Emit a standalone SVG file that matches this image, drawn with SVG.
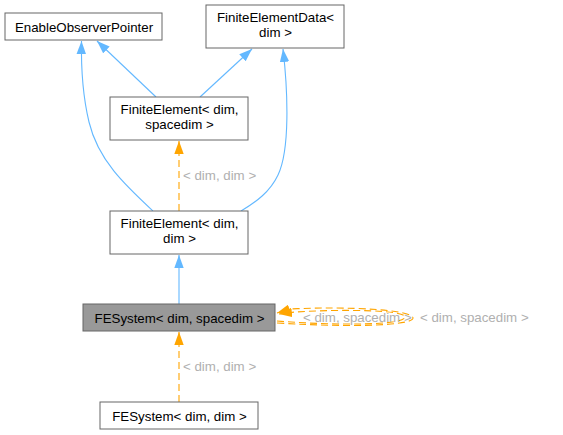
<svg xmlns="http://www.w3.org/2000/svg" width="563" height="435" viewBox="0 0 563 435">
<defs>
<style>
.n rect{fill:#fff;stroke:#666;stroke-width:1}
.n text, .lbl{font-family:"Liberation Sans",Arial,sans-serif;font-size:13.3px;text-anchor:middle}
.n text{fill:#000}
.lbl{fill:#b0b0b0;text-anchor:start}
.b{fill:none;stroke:#63b8ff;stroke-width:1.1}
.o{fill:none;stroke:#ffa500;stroke-width:1.1;stroke-dasharray:7,4}
</style>
<marker id="ab" viewBox="0 0 13 10" refX="13" refY="5" markerWidth="13" markerHeight="10" markerUnits="userSpaceOnUse" orient="auto"><path d="M0,0.3 L13,5 L0,9.7 z" fill="#63b8ff"/></marker>
<marker id="ao" viewBox="0 0 13 10" refX="13" refY="5" markerWidth="13" markerHeight="10" markerUnits="userSpaceOnUse" orient="auto"><path d="M0,0.3 L13,5 L0,9.7 z" fill="#ffa500"/></marker>
</defs>
<rect width="563" height="435" fill="#fff"/>
<g id="edges">
<path class="b" d="M156,97 L97,41" marker-end="url(#ab)"/>
<path class="b" d="M200,97 L252,49" marker-end="url(#ab)"/>
<path class="b" d="M153,211 C125,185 98,160 89,122 C83,97 81,70 81.5,41" marker-end="url(#ab)"/>
<path class="b" d="M241,211 C256,202 270,192 278,175 C290,150 288,92 283,49" marker-end="url(#ab)"/>
<path class="o" d="M179,211 L179,141" marker-end="url(#ao)"/>
<path class="b" d="M179,304 L179,255" marker-end="url(#ab)"/>
<path class="o" d="M179,402 L179,332" marker-end="url(#ao)"/>
<path class="o" d="M277,321 C340,326 405,325 405,317 C405,310 345,309 295,312 L279,314" marker-end="url(#ao)"/>
<path class="o" d="M277,323 C360,328 413,325 413,318 C413,310 350,306 290,309 L277,313" marker-end="url(#ao)"/>
<text class="lbl" x="303" y="322">&lt; dim, spacedim &gt;</text>
<text class="lbl" x="420" y="322">&lt; dim, spacedim &gt;</text>
<text class="lbl" x="183" y="180">&lt; dim, dim &gt;</text>
<text class="lbl" x="183" y="371">&lt; dim, dim &gt;</text>
</g>
<g id="EnableObserverPointer" class="n"><rect x="5" y="13" width="157" height="27"/><text x="84" y="31.5">EnableObserverPointer</text></g>
<g id="FiniteElementData" class="n"><rect x="206" y="5" width="138" height="43"/><text x="275.5" y="21.5">FiniteElementData&lt;</text><text x="275.5" y="36.5">dim &gt;</text></g>
<g id="FiniteElement_dim_spacedim" class="n"><rect x="110" y="97" width="138" height="43"/><text x="179.5" y="114">FiniteElement&lt; dim,</text><text x="179.5" y="129">spacedim &gt;</text></g>
<g id="FiniteElement_dim_dim" class="n"><rect x="110" y="211" width="138" height="43"/><text x="179.5" y="228">FiniteElement&lt; dim,</text><text x="179.5" y="243">dim &gt;</text></g>
<g id="FESystem_dim_spacedim" class="n"><rect x="83" y="304" width="192" height="27" style="fill:#999"/><text x="179.5" y="322.5">FESystem&lt; dim, spacedim &gt;</text></g>
<g id="FESystem_dim_dim" class="n"><rect x="100" y="402" width="158" height="27"/><text x="179.5" y="420.5">FESystem&lt; dim, dim &gt;</text></g>
</svg>
